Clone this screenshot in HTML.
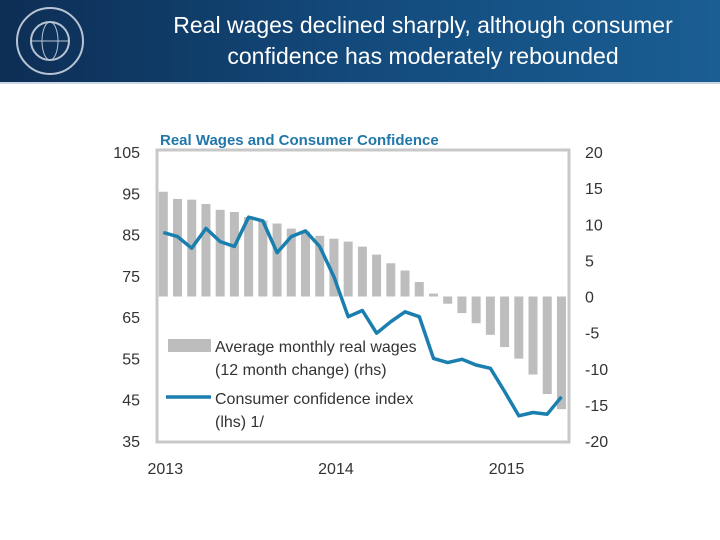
<!DOCTYPE html>
<html><head><meta charset="utf-8">
<style>
body{margin:0;width:720px;height:540px;background:#fff;overflow:hidden;font-family:"Liberation Sans",sans-serif;}
#hdr{position:absolute;left:0;top:0;width:720px;height:82px;background:linear-gradient(90deg,#0d2e55 0%,#134a7c 50%,#1a5e93 100%);border-bottom:2px solid #c9d6e4;}
#title{position:absolute;left:130px;width:586px;top:10px;text-align:center;color:#fff;font-size:23px;line-height:31px;}
</style></head><body>
<div id="hdr">
<svg width="100" height="82" style="position:absolute;left:0;top:0">
<circle cx="50" cy="41" r="33" fill="none" stroke="#b8c4d2" stroke-width="2"/>
<circle cx="50" cy="41" r="19" fill="none" stroke="#b8c4d2" stroke-width="2"/>
<ellipse cx="50" cy="41" rx="8" ry="19" fill="none" stroke="#b8c4d2" stroke-width="1"/>
<line x1="31" y1="41" x2="69" y2="41" stroke="#b8c4d2"/>
</svg>
<div id="title">Real wages declined sharply, although consumer confidence has moderately rebounded</div>
</div>
<svg id="chart" width="720" height="540" style="position:absolute;left:0;top:0"></svg>
<script>
const months=["Jan13","Feb13","Mar13","Apr13","May13","Jun13","Jul13","Aug13","Sep13","Oct13","Nov13","Dec13","Jan14","Feb14","Mar14","Apr14","May14","Jun14","Jul14","Aug14","Sep14","Oct14","Nov14","Dec14","Jan15","Feb15","Mar15","Apr15","May15"];
const wages=[14.5,13.5,13.4,12.8,12.0,11.7,11.0,10.5,10.1,9.4,9.0,8.4,8.0,7.6,6.9,5.8,4.6,3.6,2.0,0.4,-1.0,-2.3,-3.7,-5.3,-7.0,-8.6,-10.8,-13.5,-15.6];
const confidence=[85.5,84.5,81.7,86.5,83.3,82.1,89.2,88.3,80.6,84.5,85.9,82.1,74.8,65.1,66.6,61.1,63.9,66.3,65.1,55.0,54.0,54.8,53.4,52.6,47.0,41.1,41.9,41.5,45.7];
const leftTicks=[105,95,85,75,65,55,45,35];
const rightTicks=[20,15,10,5,0,-5,-10,-15,-20];
const yearLabels=["2013","2014","2015"];
const yearIdx=[0,12,24];

const svg=document.getElementById('chart');
const NS="http://www.w3.org/2000/svg";
function mk(t,a,p){const e=document.createElementNS(NS,t);for(const k in a)e.setAttribute(k,a[k]);(p||svg).appendChild(e);return e;}
const plotTop=152,plotBot=441;
const yL=v=>plotTop+(105-v)/70*(plotBot-plotTop);
const yR=v=>plotTop+(20-v)/40*(plotBot-plotTop);
const x0=163.3,dx=14.22;
const xM=i=>x0+i*dx;

const box=mk('rect',{x:157,y:150,width:412,height:292,fill:'none',stroke:'#c8c8c8','stroke-width':3});



const t=mk('text',{x:160,y:145,fill:'#2277aa','font-size':15,'font-weight':'bold'});
t.textContent='Real Wages and Consumer Confidence';



leftTicks.forEach(v=>{
 const e=mk('text',{x:140,y:yL(v)+6,'text-anchor':'end',fill:'#333','font-size':16});
 e.textContent=v;
 
 
});
rightTicks.forEach(v=>{
 const e=mk('text',{x:585,y:yR(v)+6,fill:'#333','font-size':16});
 e.textContent=v;
 
 
});
yearLabels.forEach((l,k)=>{
 const e=mk('text',{x:xM(yearIdx[k])+2,y:474,'text-anchor':'middle',fill:'#333','font-size':16});
 e.textContent=l;
 
 
});

wages.forEach((v,i)=>{
 const y0=yR(0),y1=yR(v);
 const r=mk('rect',{x:xM(i)-4.5,y:Math.min(y0,y1),width:9,height:Math.max(1.5,Math.abs(y1-y0)),fill:'#bdbdbd'});
 
 
});

const pts=confidence.map((v,i)=>xM(i).toFixed(1)+','+yL(v).toFixed(1)).join(' ');
const pl=mk('polyline',{points:pts,fill:'none',stroke:'#1a7fae','stroke-width':3.5,'stroke-linejoin':'round'});



const ls=mk('rect',{x:168,y:339,width:43,height:13,fill:'#bdbdbd'});


const ll=mk('line',{x1:166,y1:397,x2:211,y2:397,stroke:'#1a7fae','stroke-width':3.5});


[["Average monthly real wages",352,'legend-wages-label'],["(12 month change) (rhs)",375,'legend-wages-label-2'],["Consumer confidence index",404,'legend-confidence-label'],["(lhs) 1/",427,'legend-confidence-label-2']].forEach(a=>{
 const e=mk('text',{x:215,y:a[1],fill:'#333','font-size':16});
 e.textContent=a[0];
 
 
});
</script>
</body></html>
